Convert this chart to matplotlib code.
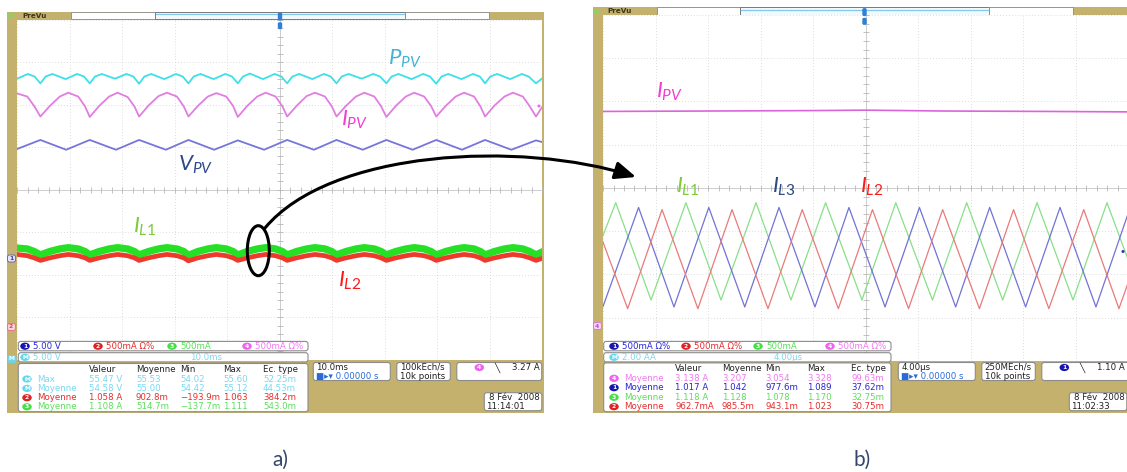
import matplotlib
matplotlib.use('Agg')
from matplotlib import pyplot as plt
from matplotlib.patches import Rectangle, FancyBboxPatch, Ellipse, FancyArrowPatch
from matplotlib.path import Path
import numpy as np

plt.rcParams['mathtext.fontset'] = 'custom'
plt.rcParams['mathtext.it'] = 'Lato:italic'
plt.rcParams['mathtext.rm'] = 'Lato'

# ---------------- panel a) : 10 ms/div, traces in divisions ----------------
# time axis shared by I_PV, I_L1, I_L2 (ms)
ta_ripple = [-50.0, -48.1, -46.8,
             -45.6, -43.8, -41.9, -40.3, -38.4, -37.1,
             -36.2, -34.4, -32.5, -30.9, -29.0, -27.7,
             -26.8, -25.0, -23.1, -21.5, -19.6, -18.3,
             -17.4, -15.6, -13.7, -12.1, -10.2, -8.9,
             -8.0, -6.2, -4.3, -2.7, -0.8, 0.5,
             1.4, 3.2, 5.1, 6.7, 8.6, 9.9,
             10.8, 12.6, 14.5, 16.1, 18.0, 19.3,
             20.3, 22.1, 24.0, 25.6, 27.5, 28.8,
             29.8, 31.6, 33.5, 35.1, 37.0, 38.2,
             39.1, 40.9, 42.8, 44.4, 46.3, 47.6,
             48.8, 50.0]
ipv_a = [2.26, 2.19, 1.97,
         1.72, 1.97, 2.19, 2.28, 2.19, 1.96,
         1.71, 1.97, 2.19, 2.28, 2.18, 1.96,
         1.72, 1.98, 2.20, 2.28, 2.19, 1.96,
         1.72, 1.97, 2.19, 2.27, 2.19, 1.97,
         1.71, 1.97, 2.19, 2.28, 2.19, 1.96,
         1.72, 1.97, 2.20, 2.28, 2.19, 1.96,
         1.72, 1.97, 2.19, 2.28, 2.19, 1.96,
         1.71, 1.97, 2.19, 2.28, 2.19, 1.97,
         1.72, 1.97, 2.19, 2.28, 2.19, 1.96,
         1.72, 1.98, 2.19, 2.28, 2.19, 1.96,
         1.72, 1.95]
il1_a = [-1.37, -1.39, -1.45,
         -1.53, -1.45, -1.39, -1.36, -1.39, -1.45,
         -1.53, -1.45, -1.39, -1.36, -1.39, -1.45,
         -1.53, -1.45, -1.39, -1.36, -1.39, -1.45,
         -1.54, -1.45, -1.39, -1.36, -1.39, -1.45,
         -1.53, -1.45, -1.39, -1.36, -1.39, -1.45,
         -1.53, -1.45, -1.39, -1.36, -1.39, -1.45,
         -1.53, -1.45, -1.39, -1.36, -1.39, -1.45,
         -1.53, -1.45, -1.39, -1.36, -1.39, -1.45,
         -1.53, -1.45, -1.39, -1.36, -1.39, -1.45,
         -1.53, -1.45, -1.39, -1.36, -1.39, -1.45,
         -1.53, -1.46]
il2_a = [-1.52, -1.55, -1.60,
         -1.66, -1.60, -1.55, -1.52, -1.55, -1.60,
         -1.66, -1.60, -1.55, -1.52, -1.55, -1.60,
         -1.66, -1.60, -1.55, -1.52, -1.55, -1.60,
         -1.67, -1.60, -1.55, -1.52, -1.55, -1.60,
         -1.66, -1.60, -1.55, -1.52, -1.55, -1.60,
         -1.66, -1.60, -1.55, -1.52, -1.55, -1.60,
         -1.66, -1.60, -1.55, -1.52, -1.55, -1.60,
         -1.66, -1.60, -1.55, -1.52, -1.55, -1.60,
         -1.66, -1.60, -1.55, -1.52, -1.55, -1.60,
         -1.66, -1.60, -1.55, -1.52, -1.55, -1.60,
         -1.66, -1.61]

ta_ppv = [-50.0, -48.0, -46.7,
          -45.6, -44.6, -43.3, -40.8, -38.6, -37.3,
          -36.2, -35.2, -33.9, -31.4, -29.2, -27.9,
          -26.8, -25.8, -24.5, -22.0, -19.8, -18.5,
          -17.4, -16.4, -15.1, -12.6, -10.4, -9.1,
          -8.0, -7.0, -5.7, -3.2, -1.0, 0.3,
          1.4, 2.4, 3.7, 6.2, 8.4, 9.7,
          10.8, 11.8, 13.1, 15.6, 17.8, 19.1,
          20.3, 21.3, 22.6, 25.1, 27.3, 28.6,
          29.8, 30.8, 32.1, 34.6, 36.8, 38.1,
          39.1, 40.1, 41.4, 43.9, 46.1, 47.4,
          48.8, 50.0]
ppv_a = [2.61, 2.72, 2.66,
         2.50, 2.66, 2.72, 2.60, 2.72, 2.66,
         2.50, 2.66, 2.72, 2.61, 2.72, 2.66,
         2.49, 2.66, 2.72, 2.60, 2.72, 2.66,
         2.50, 2.66, 2.72, 2.60, 2.72, 2.66,
         2.50, 2.66, 2.73, 2.60, 2.72, 2.66,
         2.50, 2.66, 2.72, 2.60, 2.72, 2.66,
         2.50, 2.66, 2.72, 2.61, 2.72, 2.66,
         2.50, 2.66, 2.72, 2.60, 2.72, 2.66,
         2.49, 2.66, 2.72, 2.60, 2.72, 2.66,
         2.50, 2.66, 2.72, 2.60, 2.72, 2.66,
         2.50, 2.62]

ta_vpv = [-50.0, -45.6, -40.7, -36.2, -31.2, -26.8, -21.7, -17.4, -12.5, -8.0, -3.0, 1.4,
          6.5, 10.8, 15.8, 20.3, 25.3, 29.8, 34.7, 39.1, 44.1, 48.8, 50.0]
vpv_a = [0.96, 1.17, 0.94, 1.17, 0.94, 1.17, 0.94, 1.17, 0.94, 1.16, 0.94, 1.17,
         0.94, 1.17, 0.94, 1.17, 0.94, 1.17, 0.94, 1.17, 0.94, 1.16, 1.12]

# ---------------- panel b) : 4 us/div ----------------
tb_ipv = [-20.0, -12.0, -4.0, 0.0, 6.0, 14.0, 20.0]
ipv_b = [1.77, 1.78, 1.79, 1.80, 1.78, 1.77, 1.76]

tb_l1 = [-20.0, -19.03, -16.34, -13.68, -11.01, -8.34, -5.68, -3.04, -0.27, 2.31, 5.10,
         7.71, 10.45, 13.07, 15.81, 18.40, 20.0]
il1_b = [-1.10, -0.34, -2.59, -0.34, -2.59, -0.34, -2.59, -0.34, -2.59, -0.34, -2.59,
         -0.34, -2.59, -0.34, -2.59, -0.34, -1.65]
tb_l3 = [-20.0, -17.29, -14.59, -11.94, -9.20, -6.59, -3.85, -1.26, 1.49, 4.11, 6.87,
         9.46, 12.20, 14.82, 17.56, 20.0]
il3_b = [-2.74, -0.45, -2.75, -0.45, -2.75, -0.45, -2.75, -0.45, -2.75, -0.45, -2.75,
         -0.45, -2.75, -0.45, -2.75, -0.60]
tb_l2 = [-20.0, -18.12, -15.50, -12.77, -10.17, -7.43, -4.82, -2.07, 0.53, 3.28, 5.88,
         8.68, 11.28, 13.97, 16.63, 19.31, 20.0]
il2_b = [-1.25, -2.79, -0.50, -2.79, -0.50, -2.79, -0.50, -2.79, -0.50, -2.79, -0.50,
         -2.79, -0.50, -2.79, -0.50, -2.79, -2.20]

# ---------------- scope readouts ----------------
meas_hdr = ['Valeur', 'Moyenne', 'Min', 'Max', 'Ec. type']
meas_a = [('M', 'Max', ['55.47 V', '55.53', '54.02', '55.60', '52.25m']),
          ('M', 'Moyenne', ['54.58 V', '55.00', '54.42', '55.12', '44.53m']),
          ('2', 'Moyenne', ['1.058 A', '902.8m', '\u2212193.9m', '1.063', '384.2m']),
          ('3', 'Moyenne', ['1.108 A', '514.7m', '\u2212137.7m', '1.111', '543.0m'])]
meas_b = [('4', 'Moyenne', ['3.138 A', '3.207', '3.054', '3.328', '99.63m']),
          ('1', 'Moyenne', ['1.017 A', '1.042', '977.6m', '1.089', '37.62m']),
          ('3', 'Moyenne', ['1.118 A', '1.128', '1.078', '1.170', '32.75m']),
          ('2', 'Moyenne', ['962.7mA', '985.5m', '943.1m', '1.023', '30.75m'])]
chan_a = [('1', '5.00 V'), ('2', '500mA \u03a9%'), ('3', '500mA'), ('4', '500mA \u03a9%')]
chan_b = [('1', '500mA \u03a9%'), ('2', '500mA \u03a9%'), ('3', '500mA'), ('4', '500mA \u03a9%')]
math_a = ['5.00 V', '10.0ms']
math_b = ['2.00 AA', '4.00\u00b5s']
hor_a = ['10.0ms', '100kEch/s', '10k points', '4', '3.27 A', '8 F\u00e9v  2008', '11:14:01']
hor_b = ['4.00\u00b5s', '250MEch/s', '10k points', '1', '1.10 A', '8 F\u00e9v  2008', '11:02:33']

TAN = '#c4b16d'
txt_col = {'1': '#2626d0', '2': '#e62c2c', '3': '#5cdf5c', '4': '#f07af0', 'M': '#7ad8f0'}
bdg_col = {'1': '#1616b0', '2': '#e02222', '3': '#46e046', '4': '#f062f0', 'M': '#66d6ee'}

W, H = 1127, 472
fig = plt.figure(figsize=(W / 100, H / 100), dpi=100)


def overlay(z):
    a = fig.add_axes([0, 0, 1, 1], zorder=z)
    a.set_xlim(0, W)
    a.set_ylim(H, 0)
    a.axis('off')
    a.patch.set_visible(False)
    return a


bg = overlay(0)
top = overlay(3)

# instrument frames
bg.add_patch(Rectangle((7.3, 11.7), 544 - 7.3, 412.7 - 11.7, fc=TAN, ec='none'))
bg.add_patch(Rectangle((592.7, 7.3), 540, 412.7 - 7.3, fc=TAN, ec='none'))


def topbar(x0, y0, y1, xs):
    h = y1 - y0
    bg.add_patch(Rectangle((x0 + 1, y0 + 1.5), 6, h - 3, fc='#8fd060', ec='none'))
    bg.text(x0 + 15, (y0 + y1) / 2, 'PreVu', fontsize=5.2, fontweight='bold', color='#3c3620',
            va='center', ha='left')
    bg.add_patch(Rectangle((xs[0], y0), xs[1] - xs[0], h, fc='white', ec='#8a8a8a', lw=0.6))
    bg.add_patch(Rectangle((xs[1], y0), xs[2] - xs[1], h, fc='#f2f9fc', ec='#7a7a7a', lw=0.7))
    bg.plot([xs[1] + 1, xs[2] - 1], [y0 + 2.6, y0 + 2.6], color='#86c8ea', lw=0.9)
    bg.add_patch(Rectangle((xs[2], y0), xs[3] - xs[2], h, fc='white', ec='#8a8a8a', lw=0.6))


topbar(7.3, 11.7, 19.3, [71, 155, 405, 489])
topbar(592.7, 7.3, 15.0, [657, 740, 989, 1073])


def graticule(x0, y0, x1, y1, tmax):
    ax = fig.add_axes([x0 / W, 1 - y1 / H, (x1 - x0) / W, (y1 - y0) / H], zorder=1)
    ax.set_facecolor('white')
    ax.set_xlim(-tmax, tmax)
    ax.set_ylim(-4, 4)
    for v in np.linspace(-tmax, tmax, 11):
        ax.axvline(v, color='#d2d2d2', lw=0.6, ls=(0, (1, 2.5)))
    for v in range(-4, 5):
        ax.axhline(v, color='#d2d2d2', lw=0.6, ls=(0, (1, 2.5)))
    ax.axhline(0, color='#c8c8c8', lw=0.6)
    ax.axvline(0, color='#c8c8c8', lw=0.6)
    xt = np.linspace(-tmax, tmax, 51)
    ax.plot(xt, np.zeros_like(xt), ls='none', marker='|', ms=4, mew=0.6, color='#b8b8b8')
    yt = np.linspace(-4, 4, 41)
    ax.plot(np.zeros_like(yt), yt, ls='none', marker='_', ms=4, mew=0.6, color='#b8b8b8')
    ax.set_xticks([])
    ax.set_yticks([])
    for s in ax.spines.values():
        s.set_visible(False)
    return ax


axa = graticule(17.3, 19.5, 542.3, 360, 50)
axb = graticule(603, 15, 1128, 361, 20)

# traces, panel a
axa.plot(ta_ppv, ppv_a, color='#3ee0e8', lw=1.3)
axa.plot(ta_ripple, ipv_a, color='#e07ee2', lw=1.3)
axa.plot(ta_vpv, vpv_a, color='#7676da', lw=1.3)
axa.plot(ta_ripple, il1_a, color='#26e026', lw=5.2, solid_joinstyle='round')
axa.plot(ta_ripple, il2_a, color='#ee3a2a', lw=3.4, solid_joinstyle='round')

# traces, panel b
axb.plot(tb_ipv, ipv_b, color='#da64da', lw=1.2)
axb.plot(tb_l1, il1_b, color='#88e088', lw=0.9)
axb.plot(tb_l3, il3_b, color='#7272d6', lw=0.9)
axb.plot(tb_l2, il2_b, color='#ea7a7a', lw=0.9)

# trigger markers at top centre
for xc, yt0 in [(280, 11.7), (864.5, 7.3)]:
    top.add_patch(FancyBboxPatch((xc - 2.2, yt0 + 0.8), 4.4, 8, boxstyle='round,pad=0,rounding_size=1.6',
                                 fc='#2f7fd8', ec='none'))
    top.add_patch(FancyBboxPatch((xc - 2.2, yt0 + 10.5), 4.4, 7, boxstyle='round,pad=0,rounding_size=1.6',
                                 fc='#2f7fd8', ec='none'))


# channel markers on the left border and trace ends
def marker(x, y, s, fc, ec, tc):
    top.add_patch(FancyBboxPatch((x - 4, y - 3.5), 8, 7, boxstyle='round,pad=0,rounding_size=2',
                                 fc=fc, ec=ec, lw=0.6))
    top.text(x - 0.5, y, s, fontsize=4.3, color=tc, ha='center', va='center', fontweight='bold')


marker(11.5, 258.5, '1', '#e4e4fa', '#5a5ac8', '#3a3aa8')
marker(11.5, 327, '2', '#fad2da', '#e86a80', '#e04060')
marker(12, 359, 'M', '#6ad6ee', '#6ad6ee', 'white')
marker(597.5, 326, '4', '#f6d2f6', '#d870d8', '#c050c0')
top.add_patch(Ellipse((539, 106), 3, 3, fc='#e070e0', ec='none'))
top.add_patch(Ellipse((1123, 251.5), 3, 3, fc='#3030c0', ec='none'))


# readout panels
def rbox(x0, y0, x1, y1):
    top.add_patch(FancyBboxPatch((x0, y0), x1 - x0, y1 - y0, boxstyle='round,pad=0,rounding_size=2.5',
                                 fc='white', ec='#8c8c8c', lw=0.8))


def badge(x, y, s):
    top.add_patch(Ellipse((x, y), 9.5, 7.2, fc=bdg_col[s], ec='none'))
    top.text(x, y + 0.2, s, fontsize=4.3, color='white', ha='center', va='center', fontweight='bold')


def rtxt(x, y, s, c, ha='left'):
    top.text(x, y, s, fontsize=6.2, color=c, ha=ha, va='center')


def readout(x0, x1, yr1, chan, cx, math, mx, meas, lx, cols, hy, rows):
    rbox(x0, yr1 - 4.8, x1, yr1 + 4.6)
    for (n, s), xx in zip(chan, cx):
        badge(xx, yr1, n)
        rtxt(xx + 8, yr1, s, txt_col[n])
    rbox(x0, yr1 + 6.5, x1, yr1 + 15.7)
    badge(cx[0], yr1 + 11.1, 'M')
    rtxt(cx[0] + 8, yr1 + 11.1, math[0], txt_col['M'])
    rtxt(mx, yr1 + 11.1, math[1], txt_col['M'])
    rbox(x0, hy - 5.5, x1, 411.7)
    for h, xx in zip(meas_hdr, cols):
        rtxt(xx, hy, h, '#202020')
    for (n, lab, vals), yy in zip(meas, rows):
        badge(lx, yy, n)
        rtxt(lx + 10, yy, lab, txt_col[n])
        for v, xx in zip(vals, cols):
            rtxt(xx, yy, v, txt_col[n])


readout(18.3, 308, 346.2, chan_a, [25, 98, 172, 247], math_a, 190, meas_a, 27,
        [89, 136, 180, 223, 263], 369, [379, 388.4, 397.7, 406.8])
readout(603.7, 891, 346.2, chan_b, [614, 686, 758, 830], math_b, 774, meas_b, 614,
        [675, 722, 765, 807.5, 851], 368.4, [378.3, 387.7, 397.3, 406.7])


def horiz(x0, hv, trig_x1):
    # timebase box
    rbox(x0, 362.5, x0 + 77, 380.5)
    rtxt(x0 + 3, 367.3, hv[0], '#202020')
    rtxt(x0 + 3, 376.3, '\u25a0\u25b8\u25be 0.00000 s', '#2a6ad8')
    # sample rate box
    rbox(x0 + 83.5, 362.5, x0 + 137, 380.5)
    rtxt(x0 + 86.5, 367.3, hv[1], '#202020')
    rtxt(x0 + 86.5, 376.3, hv[2], '#202020')
    # trigger box
    rbox(x0 + 143.5, 362.5, trig_x1, 380.5)
    badge(x0 + 166, 367.5, hv[3])
    rtxt(x0 + 181, 367.5, '\u2572', '#202020')
    rtxt(x0 + 226, 367.5, hv[4], '#202020', ha='right')
    # date box
    rbox(x0 + 171, 392.7, x0 + 228.5, 410.7)
    rtxt(x0 + 226, 397.5, hv[5], '#202020', ha='right')
    rtxt(x0 + 173, 406.3, hv[6], '#202020')


horiz(313.3, hor_a, 541.7)
horiz(898.3, hor_b, 1135)

# curve labels
lab_kw = dict(fontsize=16, ha='left', va='baseline')
top.text(387.5, 65, r'$P_{\mathit{PV}}$', color='#45b4d4', **lab_kw)
top.text(341, 126, r'$I_{\mathit{PV}}$', color='#f43cd2', **lab_kw)
top.text(178.5, 171, r'$V_{\mathit{PV}}$', color='#2c4a88', **lab_kw)
top.text(133, 233, r'$I_{\mathit{L1}}$', color='#7ccc3a', **lab_kw)
top.text(337.5, 287, r'$I_{\mathit{L2}}$', color='#ff1a1a', **lab_kw)
top.text(655.5, 98, r'$I_{\mathit{PV}}$', color='#f43cd2', **lab_kw)
top.text(676, 192.5, r'$I_{\mathit{L1}}$', color='#7ccc3a', **lab_kw)
top.text(771.5, 192.5, r'$I_{\mathit{L3}}$', color='#2c4a88', **lab_kw)
top.text(860, 192.5, r'$I_{\mathit{L2}}$', color='#ff1a1a', **lab_kw)

# zoom annotation: ellipse and curved arrow
top.add_patch(Ellipse((258.3, 250.7), 22, 50, fill=False, ec='black', lw=2.2))
curve = Path([(265, 228), (330, 150), (520, 140), (636, 177)],
             [Path.MOVETO, Path.CURVE4, Path.CURVE4, Path.CURVE4])
top.add_patch(FancyArrowPatch(path=curve, arrowstyle='-|>,head_length=0.9,head_width=0.38',
                              mutation_scale=14, lw=2.2, color='black'))

top.text(280, 460, 'a)', fontsize=15, color='#34466a', ha='center', va='center', family='Lato')
top.text(862, 460, 'b)', fontsize=15, color='#34466a', ha='center', va='center', family='Lato')

fig.savefig('out.png', dpi=100)
